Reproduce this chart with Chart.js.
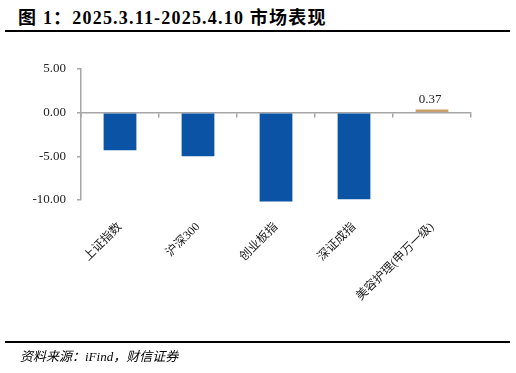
<!DOCTYPE html>
<html>
<head>
<meta charset="utf-8">
<script src="https://cdn.jsdelivr.net/npm/chart.js@4"></script>
<style>
  body { margin: 0; background: #fff; }
  #wrap { position: relative; width: 516px; height: 373px; overflow: hidden; }
  #c { position: absolute; left: 0; top: 0; }
  .title { position: absolute; left: 18px; top: 3px; font: bold 18px "Liberation Serif", "Noto Sans CJK SC", serif; color: #000; white-space: nowrap; letter-spacing: 1.2px; }
  .rule { position: absolute; left: 5px; width: 505px; background: #000; }
  .src { position: absolute; left: 20px; top: 346px; font: italic 13px "Liberation Serif", "Noto Sans CJK SC", serif; color: #000; white-space: nowrap; }
</style>
</head>
<body>
<div id="wrap">
  <div class="title">图 1：2025.3.11-2025.4.10 市场表现</div>
  <div class="rule" style="top:30px;height:2px"></div>
  <canvas id="c" width="516" height="373"></canvas>
  <div class="rule" style="top:341px;height:1.5px"></div>
  <div class="src">资料来源：iFind，财信证券</div>
</div>
<script>
// 区间涨跌幅 (%)
const categories = ['上证指数', '沪深300', '创业板指', '深证成指', '美容护理(申万一级)'];
const changes = [-4.30, -4.99, -10.18, -9.91, 0.37];
const yTicks = [-10, -5, 0, 5];

const BLUE = '#0b53a5';
const GOLD = '#c9a06b';
const AXIS = '#a6a6a6';
const serif = '"Liberation Serif", "Noto Sans CJK SC", serif';

// 正值柱子上方标注数值
const valueLabels = {
  id: 'valueLabels',
  afterDatasetsDraw(chart) {
    const ctx = chart.ctx;
    const meta = chart.getDatasetMeta(0);
    ctx.save();
    ctx.font = '13px ' + serif;
    ctx.fillStyle = '#222';
    ctx.textAlign = 'center';
    ctx.textBaseline = 'bottom';
    meta.data.forEach((bar, i) => {
      if (changes[i] > 0) ctx.fillText(changes[i].toFixed(2), bar.x - 2, bar.y - 3);
    });
    ctx.restore();
  }
};

new Chart(document.getElementById('c'), {
  type: 'bar',
  data: {
    labels: categories,
    datasets: [{
      data: changes,
      backgroundColor: c => c.dataIndex === categories.length - 1 ? GOLD : BLUE,
      barPercentage: 0.42,
      categoryPercentage: 1,
      xAxisID: 'x',
      clip: false
    }]
  },
  options: {
    responsive: false,
    animation: false,
    layout: { padding: { left: 31, right: 45, top: 69, bottom: 0 } },
    plugins: { legend: { display: false }, tooltip: { enabled: false } },
    scales: {
      x: {
        position: 'bottom',
        grid: { display: false },
        border: { display: false },
        ticks: {
          font: { family: serif, size: 12 },
          color: '#222',
          maxRotation: 45,
          minRotation: 45,
          padding: 12,
          autoSkip: false
        },
        afterFit: s => { s.height = 173; }
      },
      x2: {
        type: 'category',
        position: { y: 0 },
        grid: { drawOnChartArea: false, drawTicks: true, tickLength: 4, color: AXIS, lineWidth: 1.5, offset: true },
        border: { color: AXIS, width: 1.5 },
        ticks: { display: false }
      },
      y: {
        min: -10,
        max: 5,
        afterBuildTicks: s => { s.ticks = yTicks.map(v => ({ value: v })); },
        grid: { drawOnChartArea: false, drawTicks: true, tickLength: 4, color: AXIS, lineWidth: 1.5 },
        border: { color: AXIS, width: 1.5 },
        ticks: {
          font: { family: serif, size: 13 },
          color: '#222',
          padding: 11,
          callback: v => v.toFixed(2)
        },
        afterFit: s => { s.width = 50; }
      }
    }
  },
  plugins: [valueLabels]
});
</script>
</body>
</html>
